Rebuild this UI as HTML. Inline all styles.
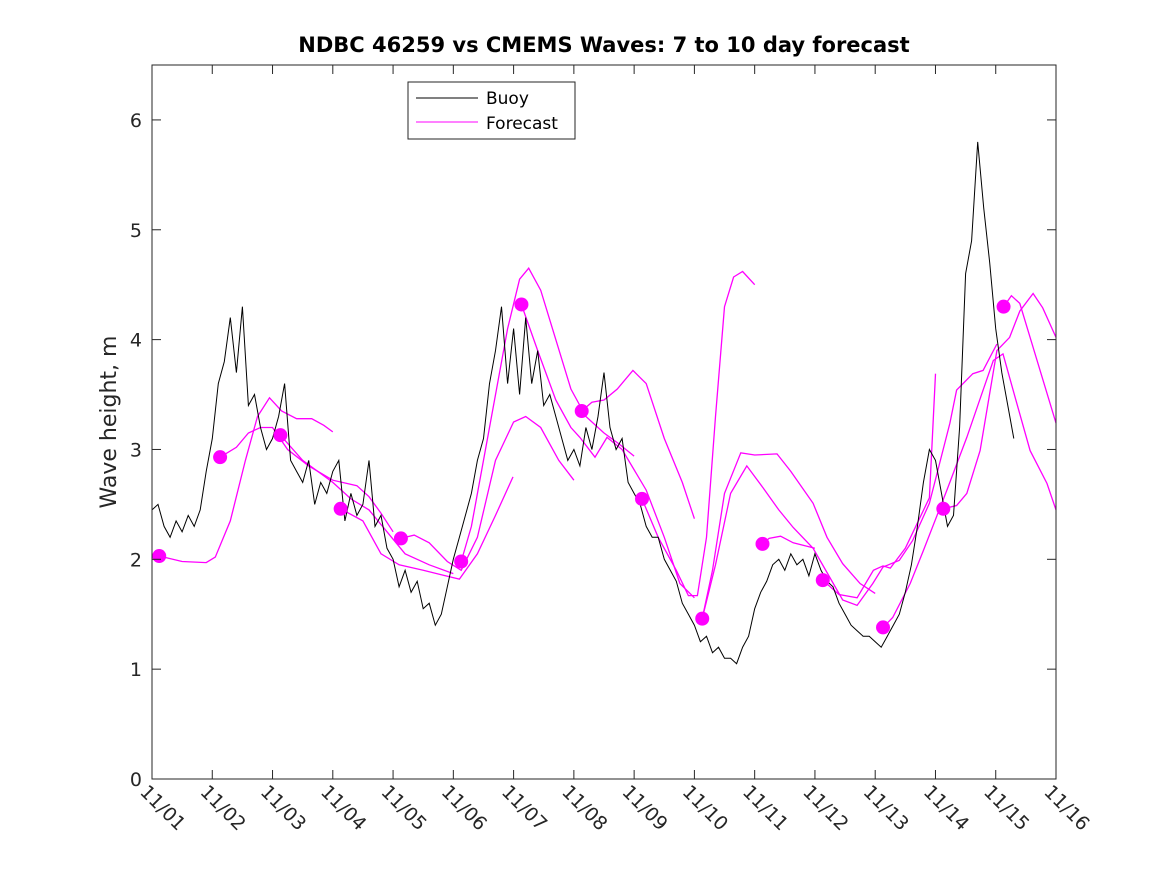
<!DOCTYPE html>
<html><head><meta charset="utf-8"><style>
body{margin:0;background:#fff}
svg text{font-family:"DejaVu Sans","Liberation Sans",sans-serif;fill:#262626}
</style></head><body>
<svg id="chart" width="1167" height="875" xmlns="http://www.w3.org/2000/svg">
<rect x="0" y="0" width="1167" height="875" fill="#fff"/>
<text x="604" y="52" text-anchor="middle" font-size="21" font-weight="bold" style="fill:#000">NDBC 46259 vs CMEMS Waves: 7 to 10 day forecast</text>
<text x="0" y="0" transform="translate(116,422) rotate(-90)" text-anchor="middle" font-size="22">Wave height, m</text>
<g id="plot"></g>
<rect x="152" y="65" width="904" height="714" fill="none" stroke="#262626" stroke-width="1"/>
<g id="axes"></g>
<g>
<rect x="408" y="82" width="167" height="57" fill="#fff" stroke="#262626"/>
<line x1="416" y1="98" x2="478" y2="98" stroke="#000"/>
<text x="486" y="104" font-size="17" style="fill:#000">Buoy</text>
<line x1="416" y1="122" x2="478" y2="122" stroke="#f0f"/>
<text x="486" y="129" font-size="17" style="fill:#000">Forecast</text>
</g>
</svg>
<script>
const xTicks=["11/01","11/02","11/03","11/04","11/05","11/06","11/07","11/08","11/09","11/10","11/11","11/12","11/13","11/14","11/15","11/16"];
const yTicks=[0,1,2,3,4,5,6];
const buoyStart=0, buoyStep=0.1;
const buoyVals=[2.45,2.5,2.3,2.2,2.35,2.25,2.4,2.3,2.45,2.8,3.1,3.6,3.8,4.2,3.7,4.3,3.4,3.5,3.2,3.0,3.1,3.3,3.6,2.9,2.8,2.7,2.9,2.5,2.7,2.6,2.8,2.9,2.35,2.6,2.4,2.5,2.9,2.3,2.4,2.1,2.0,1.75,1.9,1.7,1.8,1.55,1.6,1.4,1.5,1.75,2.0,2.2,2.4,2.6,2.9,3.1,3.6,3.9,4.3,3.6,4.1,3.5,4.2,3.6,3.9,3.4,3.5,3.3,3.1,2.9,3.0,2.85,3.2,3.0,3.3,3.7,3.2,3.0,3.1,2.7,2.6,2.5,2.3,2.2,2.2,2.0,1.9,1.8,1.6,1.5,1.4,1.25,1.3,1.15,1.2,1.1,1.1,1.05,1.2,1.3,1.55,1.7,1.8,1.95,2.0,1.9,2.05,1.95,2.0,1.85,2.05,1.9,1.8,1.75,1.6,1.5,1.4,1.35,1.3,1.3,1.25,1.2,1.3,1.4,1.5,1.7,1.95,2.3,2.7,3.0,2.9,2.6,2.3,2.4,3.2,4.6,4.9,5.8,5.2,4.7,4.1,3.7,3.4,3.1];
const dotDays=[0.12,1.13,2.13,3.13,4.13,5.13,6.13,7.13,8.13,9.13,10.13,11.13,12.13,13.13,14.13];
const dotVals=[2.03,2.93,3.13,2.46,2.19,1.98,4.32,3.35,2.55,1.46,2.14,1.81,1.38,2.46,4.30];
const fcDays=[
[0.12,0.5,0.9,1.05,1.3,1.55,1.75,1.95,2.15,2.4,2.65,2.85,3.0],
[1.13,1.4,1.6,1.8,2.0,2.25,2.6,3.0,3.4,3.6,3.8,4.0],
[2.13,2.5,3.0,3.3,3.6,3.9,4.2,4.6,5.0],
[3.13,3.5,3.8,4.1,4.5,4.8,5.1,5.4,5.7,5.99],
[4.13,4.35,4.6,4.9,5.13,5.4,5.7,6.0,6.2,6.45,6.75,7.0],
[5.13,5.3,5.6,5.9,6.1,6.25,6.45,6.7,6.95,7.2,7.5,7.75,8.0],
[6.13,6.4,6.7,6.95,7.1,7.35,7.55,7.8,8.2,8.5,8.76,9.0],
[7.13,7.3,7.5,7.72,7.98,8.2,8.5,8.8,9.0],
[8.13,8.4,8.7,8.9,9.05,9.2,9.35,9.5,9.65,9.8,10.0],
[9.13,9.3,9.5,9.77,10.0,10.37,10.6,10.97,11.2,11.46,11.75,12.0],
[9.13,9.35,9.6,9.87,10.14,10.4,10.64,10.97,11.2,11.46,11.7,11.96,12.13,12.4,12.62,12.9,13.24,13.35,13.62,13.79,14.02],
[10.13,10.24,10.43,10.64,11.0],
[11.13,11.4,11.7,11.97,12.13,12.25,12.5,12.9,13.0],
[12.13,12.29,12.58,12.8,13.19,13.52,13.79,13.96,14.12,14.35,14.57,14.85,15.0],
[13.13,13.35,13.52,13.74,14.02,14.23,14.4,14.62,14.78,15.0],
[14.13,14.26,14.4,14.57,15.0]];
const fcVals=[
[2.03,1.98,1.97,2.02,2.35,2.9,3.3,3.47,3.35,3.28,3.28,3.22,3.16],
[2.93,3.02,3.15,3.2,3.2,3.0,2.85,2.72,2.67,2.57,2.42,2.25],
[3.13,2.9,2.7,2.55,2.45,2.25,2.05,1.95,1.87],
[2.46,2.35,2.05,1.95,1.9,1.86,1.82,2.05,2.4,2.75],
[2.19,2.22,2.15,1.98,1.9,2.2,2.9,3.25,3.3,3.2,2.9,2.72],
[1.98,2.3,3.2,4.1,4.55,4.65,4.45,4.0,3.55,3.3,3.15,3.05,2.94],
[4.32,3.9,3.45,3.2,3.11,2.93,3.11,3.0,2.63,2.2,1.78,1.65],
[3.35,3.43,3.45,3.55,3.72,3.6,3.1,2.7,2.37],
[2.55,2.2,1.9,1.67,1.67,2.2,3.3,4.3,4.57,4.62,4.5],
[1.46,1.9,2.6,2.97,2.95,2.96,2.8,2.51,2.2,1.96,1.78,1.69],
[1.46,1.95,2.6,2.85,2.65,2.45,2.29,2.1,1.88,1.63,1.58,1.78,1.93,1.99,2.17,2.51,3.24,3.54,3.69,3.72,3.96],
[2.14,2.19,2.21,2.15,2.1],
[1.81,1.68,1.65,1.9,1.94,1.92,2.1,2.56,3.69],
[1.38,1.47,1.78,2.08,2.63,3.11,3.54,3.81,3.87,3.42,2.99,2.69,2.45],
[2.46,2.49,2.6,2.99,3.9,4.02,4.26,4.42,4.29,4.02],
[4.30,4.4,4.33,4.02,3.24]];

const NS="http://www.w3.org/2000/svg";
const X0=152,X1=1056,Y0=779,Y1=65,DMAX=15,VMAX=6.5;
function xs(d){return X0+(X1-X0)*d/DMAX;}
function ys(v){return Y0-(Y0-Y1)*v/VMAX;}
const plot=document.getElementById('plot'), axes=document.getElementById('axes');
function mk(tag,attrs,parent){const e=document.createElementNS(NS,tag);for(const k in attrs)e.setAttribute(k,attrs[k]);parent.appendChild(e);return e;}

fcDays.forEach((ds,i)=>{
  const pts=ds.map((d,j)=>xs(d).toFixed(1)+','+ys(fcVals[i][j]).toFixed(1)).join(' ');
  const pl=mk('polyline',{points:pts,fill:'none',stroke:'#f0f','stroke-width':1.3},plot);
  
  
});
const bpts=buoyVals.map((v,i)=>xs(buoyStart+i*buoyStep).toFixed(1)+','+ys(v).toFixed(1)).join(' ');
const bl=mk('polyline',{points:bpts,fill:'none',stroke:'#000','stroke-width':1},plot);


dotDays.forEach((d,i)=>{
  const c=mk('circle',{cx:xs(d),cy:ys(dotVals[i]),r:7,fill:'#f0f'},plot);
  
  
});
xTicks.forEach((t,i)=>{
  const x=xs(i);
  mk('line',{x1:x,y1:Y0,x2:x,y2:Y0-9,stroke:'#262626'},axes);
  mk('line',{x1:x,y1:Y1,x2:x,y2:Y1+9,stroke:'#262626'},axes);
  const tx=mk('text',{x:0,y:0,transform:`translate(${x-13},${Y0+14}) rotate(45)`,'font-size':19},axes);
  tx.textContent=t;
  
  
});
yTicks.forEach(v=>{
  const y=ys(v);
  mk('line',{x1:X0,y1:y,x2:X0+9,y2:y,stroke:'#262626'},axes);
  mk('line',{x1:X1,y1:y,x2:X1-9,y2:y,stroke:'#262626'},axes);
  const tx=mk('text',{x:X0-10,y:y+7,'text-anchor':'end','font-size':19},axes);
  tx.textContent=v;
  
  
});
</script>
</body></html>
